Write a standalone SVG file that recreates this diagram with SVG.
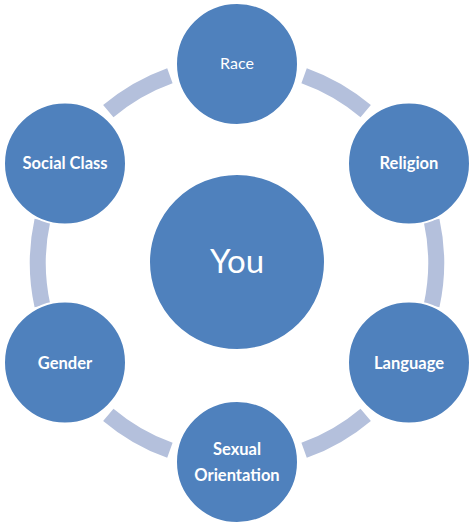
<svg xmlns="http://www.w3.org/2000/svg" width="474" height="527" viewBox="0 0 474 527">
<style>
.ring{fill:none;stroke:#b4c0dc;stroke-width:16;stroke-linecap:butt}
.node{fill:#4f81bd;stroke:#ffffff;stroke-width:2}
.lbl{font-family:Lato,"Open Sans","Liberation Sans",sans-serif;font-size:16.5px;fill:#ffffff;text-anchor:middle;font-weight:bold}
.reg{font-weight:normal;font-size:16px}
.big{font-family:Lato,"Open Sans","Liberation Sans",sans-serif;font-size:33px;fill:#ffffff;text-anchor:middle}
</style>
<rect width="474" height="527" fill="#ffffff"/>
<g id="connectors">
<path class="ring" d="M304.1,75.7 A199,199 0 0 1 365.7,111.2"/>
<path class="ring" d="M431.6,220.4 A199,199 0 0 1 431.6,305.6"/>
<path class="ring" d="M365.7,414.8 A199,199 0 0 1 304.1,450.3"/>
<path class="ring" d="M169.9,450.3 A199,199 0 0 1 108.3,414.8"/>
<path class="ring" d="M42.4,305.6 A199,199 0 0 1 42.4,220.4"/>
<path class="ring" d="M108.3,111.2 A199,199 0 0 1 169.9,75.7"/>
</g>
<g id="you"><circle class="node" cx="237" cy="262" r="88"/><text class="big" x="237" y="273">You</text></g>
<g id="race"><circle class="node" cx="237" cy="64" r="61"/><text class="lbl reg" x="237" y="69">Race</text></g>
<g id="religion"><circle class="node" cx="409" cy="163.5" r="61"/><text class="lbl" x="409" y="169">Religion</text></g>
<g id="language"><circle class="node" cx="409" cy="362.5" r="61"/><text class="lbl" x="409" y="369">Language</text></g>
<g id="sexual-orientation"><circle class="node" cx="237" cy="462" r="61"/><text class="lbl" x="237" y="455">Sexual</text><text class="lbl" x="237" y="481">Orientation</text></g>
<g id="gender"><circle class="node" cx="65" cy="362.5" r="61"/><text class="lbl" x="65" y="369">Gender</text></g>
<g id="social-class"><circle class="node" cx="65" cy="163.5" r="61"/><text class="lbl" x="65" y="169">Social Class</text></g>
</svg>
